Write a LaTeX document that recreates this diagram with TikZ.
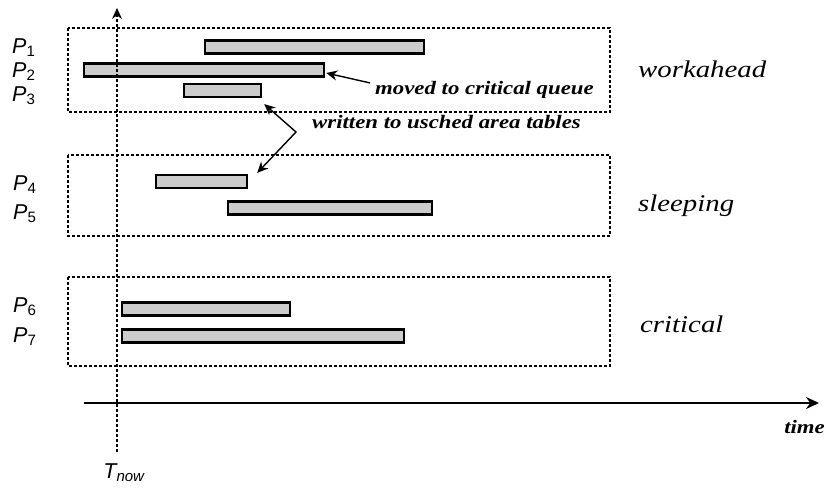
\documentclass[tikz,border=0pt]{standalone}
\usepackage{fontspec}
\newfontfamily\sansP{Liberation Sans}
\newfontfamily\serifL{Liberation Serif}[FakeStretch=1.2]
\usetikzlibrary{arrows.meta}

\begin{document}
\begin{tikzpicture}[x=1pt, y=-1pt, >={Stealth[length=11pt, width=10pt]},
    bar/.style={rectangle, draw=black, line width=2.2pt, fill=black!20, minimum height=13pt, inner sep=0pt, anchor=west},
    grp/.style={draw=black, line width=1.2pt, dash pattern=on 3pt off 2pt},
    plab/.style={anchor=base west, inner sep=0pt, font=\sansP\fontsize{21.5}{24}\selectfont},
    glab/.style={anchor=base west, inner sep=0pt, font=\serifL\itshape\fontsize{24}{28}\selectfont},
    note/.style={anchor=base west, inner sep=0pt, font=\serifL\bfseries\itshape\fontsize{19}{22}\selectfont}]

    \useasboundingbox (0,0) rectangle (826,487);

    % queues
    \draw[grp] (68,28) rectangle (610,112);
    \draw[grp] (68,155) rectangle (610,236);
    \draw[grp] (68,277) rectangle (610,366);

    \node[plab] (p1) at (12,53) {\textit{P}\textsubscript{1}};
    \node[plab] (p2) at (12,77) {\textit{P}\textsubscript{2}};
    \node[plab] (p3) at (12,101) {\textit{P}\textsubscript{3}};
    \node[plab] (p4) at (13,190) {\textit{P}\textsubscript{4}};
    \node[plab] (p5) at (13,219) {\textit{P}\textsubscript{5}};
    \node[plab] (p6) at (13,312) {\textit{P}\textsubscript{6}};
    \node[plab] (p7) at (13,342) {\textit{P}\textsubscript{7}};

    \node[bar, minimum width=219pt] (b1) at (204,47) {};
    \node[bar, minimum width=240pt] (b2) at (83,70) {};
    \node[bar, minimum width=77pt] (b3) at (183,90.5) {};
    \node[bar, minimum width=91pt] (b4) at (155,181.5) {};
    \node[bar, minimum width=204pt] (b5) at (227,208) {};
    \node[bar, minimum width=168pt] (b6) at (121,309) {};
    \node[bar, minimum width=282pt] (b7) at (121,336) {};

    \node[glab] (wa) at (638,77) {workahead};
    \node[glab] (sl) at (638,211) {sleeping};
    \node[glab] (cr) at (640,332) {critical};

    % notes
    \node[note] (mv) at (375,94) {moved to critical queue};
    \node[note] (wt) at (312,128) {written to usched area tables};
    \coordinate (wc) at (296,132);

    \draw[->, line width=1.4pt] ([xshift=-5pt, yshift=6.5pt]mv.west) -- ([xshift=1pt, yshift=-3pt]b2.east);
    \draw[<->, line width=1.4pt] ([xshift=2pt, yshift=-6pt]b3.south east) -- (wc) -- ([xshift=9pt, yshift=1pt]b4.north east);

    % time axis
    \coordinate (t0) at (84,403);
    \coordinate (t1) at (819,403);
    \draw[-{Stealth[length=13pt, width=12pt]}, line width=2.8pt] (t0) -- (t1);
    \node[note, anchor=base east] (tm) at (825,433) {time};

    \coordinate (n0) at (117,452);
    \coordinate (n1) at (117,8);
    \draw[->, line width=1.2pt, dash pattern=on 3pt off 2pt] (n0) -- (n1);
    \node[plab, anchor=base] (tn) at (124,478) {\textit{T\textsubscript{now}}};

\end{tikzpicture}
\end{document}
